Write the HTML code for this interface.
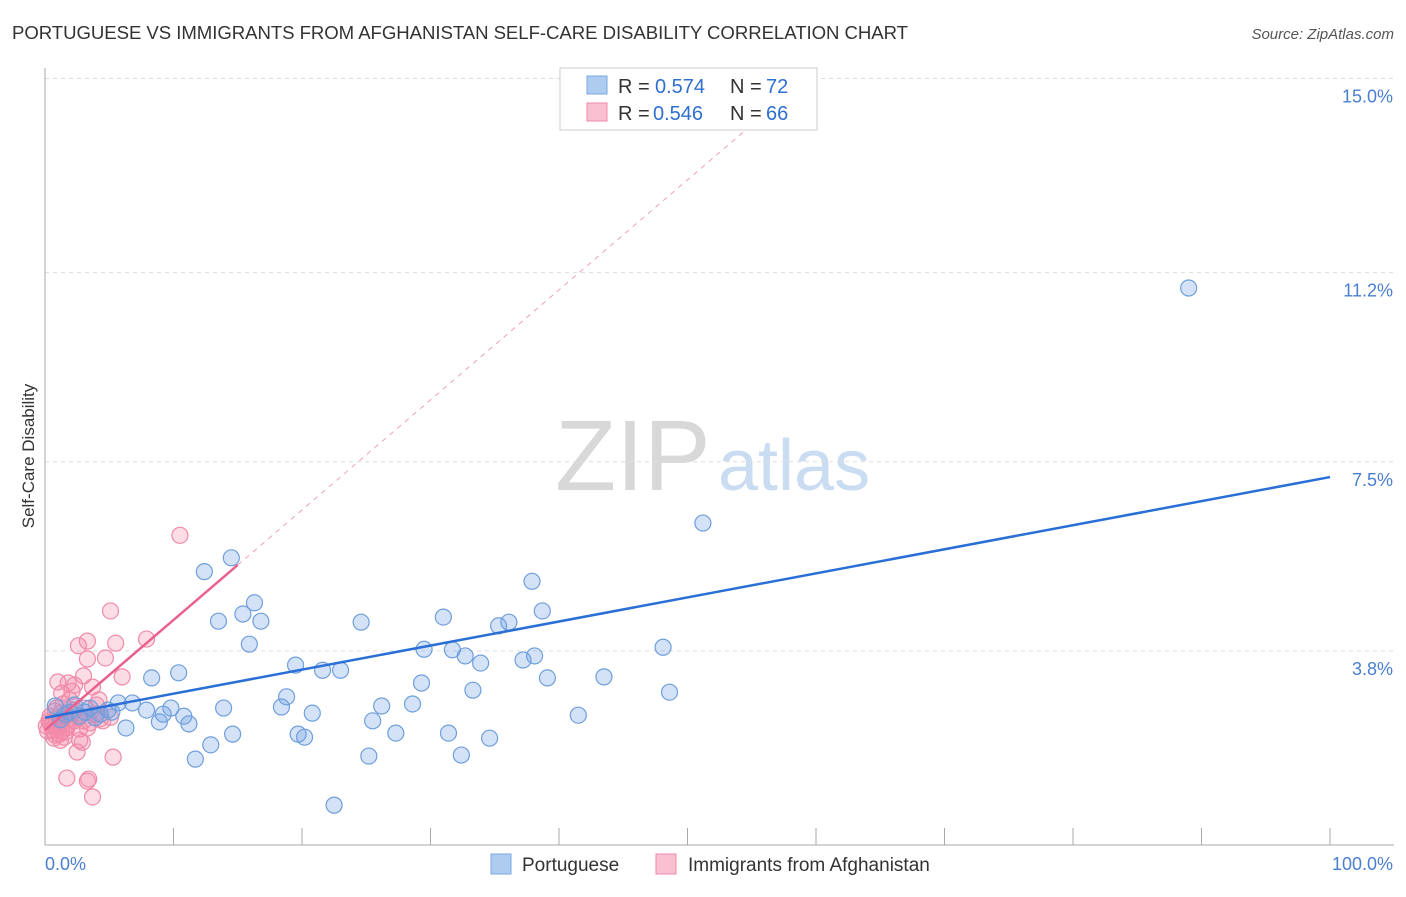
<!DOCTYPE html>
<html><head><meta charset="utf-8"><style>
body{margin:0;background:#fff;font-family:"Liberation Sans",sans-serif}
svg text{font-family:"Liberation Sans",sans-serif}
</style></head><body>
<svg width="1406" height="892" id="c">
<text x="12" y="39" font-size="18.6" fill="#333" textLength="896">PORTUGUESE VS IMMIGRANTS FROM AFGHANISTAN SELF-CARE DISABILITY CORRELATION CHART</text>
<text x="1394" y="39" font-size="15" fill="#555" font-style="italic" text-anchor="end">Source: ZipAtlas.com</text>
<text x="34" y="456" font-size="17" fill="#333" text-anchor="middle" transform="rotate(-90 34 456)">Self-Care Disability</text>
<text x="555" y="490" font-size="100" fill="#d8d8d8" font-family="Liberation Serif">ZIP</text>
<text x="718" y="490" font-size="72" fill="#c9dcf2">atlas</text>
<g id="grid"></g><g id="marks"></g>
<g>
<rect x="560" y="68" width="257" height="62" fill="#fff" stroke="#ccc"/>
<rect x="587" y="76" width="20" height="18" fill="#aecbf0" stroke="#7aa8e0"/>
<rect x="587" y="103" width="20" height="18" fill="#f8c0d0" stroke="#f08aa8"/>
<text x="618" y="93" font-size="20" fill="#333">R =</text>
<text x="655" y="93" font-size="20" fill="#2f6fd0">0.574</text>
<text x="730" y="93" font-size="20" fill="#333">N =</text>
<text x="766" y="93" font-size="20" fill="#2f6fd0">72</text>
<text x="618" y="120" font-size="20" fill="#333">R =</text>
<text x="653" y="120" font-size="20" fill="#2f6fd0">0.546</text>
<text x="730" y="120" font-size="20" fill="#333">N =</text>
<text x="766" y="120" font-size="20" fill="#2f6fd0">66</text>
</g>
<g>
<rect x="491" y="854" width="20" height="20" fill="#aecbf0" stroke="#7aa8e0"/>
<text x="522" y="871" font-size="19" fill="#333">Portuguese</text>
<rect x="656" y="854" width="20" height="20" fill="#f8c0d0" stroke="#f08aa8"/>
<text x="688" y="871" font-size="19" fill="#333">Immigrants from Afghanistan</text>
</g>
<text x="45" y="870" font-size="18" fill="#4a7fd0">0.0%</text>
<text x="1393" y="870" font-size="18" fill="#4a7fd0" text-anchor="end">100.0%</text>
</svg>
<script>
const yTicks=[15.0,11.2,7.5,3.8];
const yTickLabels=["15.0%","11.2%","7.5%","3.8%"];
const blueX=[89.0,51.2,14.5,12.4,37.9,16.3,15.4,38.7,13.5,16.8,24.6,31.0,35.3,36.1,15.9,48.1,29.5,31.7,32.7,33.9,37.2,38.1,19.5,21.6,23.0,10.4,8.3,39.1,43.5,29.3,33.3,48.6,18.8,26.2,28.6,18.4,13.9,20.8,9.8,5.7,6.8,7.9,9.2,10.8,41.5,25.5,8.9,11.2,6.3,14.6,19.7,20.2,27.3,31.4,34.6,12.9,11.7,25.2,32.4,22.5,0.8,1.9,2.7,3.5,4.3,4.9,1.2,2.3,3.9,3.1,1.6,5.2];
const blueY=[10.9,6.3,5.62,5.35,5.16,4.74,4.52,4.58,4.38,4.38,4.36,4.46,4.29,4.36,3.93,3.87,3.83,3.82,3.70,3.56,3.62,3.70,3.52,3.42,3.42,3.37,3.27,3.27,3.29,3.17,3.03,2.99,2.90,2.72,2.76,2.70,2.68,2.58,2.68,2.78,2.78,2.64,2.56,2.52,2.54,2.43,2.41,2.37,2.29,2.17,2.17,2.11,2.19,2.19,2.09,1.96,1.68,1.74,1.76,0.78,2.72,2.60,2.52,2.68,2.56,2.64,2.45,2.74,2.49,2.60,2.56,2.60];
const pinkX=[10.5,5.1,3.3,2.6,5.5,7.9,3.3,4.7,6.0,3.0,1.0,1.8,2.3,3.7,1.3,2.1,4.2,4.0,3.1,0.8,1.2,1.6,1.9,2.3,0.4,0.5,1.0,1.3,1.8,2.7,3.5,4.3,0.8,1.6,0.2,0.4,0.9,1.3,1.7,2.1,2.6,3.0,3.3,3.9,4.5,5.1,2.7,2.9,2.5,5.3,1.7,3.4,3.3,3.7,1.2,0.7,1.9,0.1,0.3,0.6,1.1,1.5,0.9,1.4,1.9,2.3];
const pinkY=[6.06,4.58,3.99,3.90,3.95,4.03,3.64,3.66,3.29,3.31,3.19,3.17,3.13,3.09,2.97,3.01,2.84,2.74,2.68,2.62,2.58,2.52,2.47,2.43,2.39,2.33,2.29,2.23,2.35,2.27,2.39,2.47,2.15,2.21,2.23,2.52,2.47,2.39,2.29,2.58,2.50,2.43,2.29,2.56,2.43,2.50,2.05,2.01,1.82,1.72,1.31,1.29,1.25,0.94,2.05,2.09,2.66,2.33,2.43,2.25,2.17,2.11,2.68,2.76,2.84,2.64];
const blueLine=[2.49,7.2];
const pinkLine=[2.25,5.48,14.0];
const NS="http://www.w3.org/2000/svg";
const X=v=>45+v*12.85, Y=v=>845-v*51.1;
function mk(t,a,p){const e=document.createElementNS(NS,t);for(const k in a)e.setAttribute(k,a[k]);p.appendChild(e);return e;}
const g=document.getElementById('grid'), m=document.getElementById('marks');
yTicks.forEach((t,i)=>{
 const l=mk('line',{x1:45,x2:1394,y1:Y(t),y2:Y(t),stroke:'#ddd','stroke-dasharray':'4,4'},g);
 
 
 const tx=mk('text',{x:1393,y:Y(t)+24,'font-size':18,fill:'#4a7fd0','text-anchor':'end'},g);
 tx.textContent=yTickLabels[i];
 
 
});
const ax=mk('line',{x1:45,x2:1394,y1:845,y2:845,stroke:'#aaa'},g);


const ay=mk('line',{x1:45,x2:45,y1:68,y2:845,stroke:'#aaa'},g);


for(let k=0;k<=10;k++){const t=mk('line',{x1:X(k*10),x2:X(k*10),y1:828,y2:845,stroke:'#aaa'},g);
 
 }
pinkX.forEach((x,i)=>{const c=mk('circle',{cx:X(x),cy:Y(pinkY[i]),r:8,fill:'rgba(245,140,170,0.3)',stroke:'#f08aa8','stroke-width':1.2},m);
 
 });
blueX.forEach((x,i)=>{const c=mk('circle',{cx:X(x),cy:Y(blueY[i]),r:8,fill:'rgba(110,160,230,0.3)',stroke:'#6f9fdc','stroke-width':1.2},m);
 
 });
const pslope=(pinkLine[1]-pinkLine[0])/15, xEnd=(pinkLine[2]-pinkLine[0])/pslope;
const pd=mk('line',{x1:X(15),y1:Y(pinkLine[1]),x2:X(xEnd),y2:Y(pinkLine[2]),stroke:'#f0a0b8','stroke-dasharray':'5,5'},m);


const pl=mk('line',{x1:X(0),y1:Y(pinkLine[0]),x2:X(15),y2:Y(pinkLine[1]),stroke:'#e8628f','stroke-width':2.5},m);


const bl=mk('line',{x1:X(0),y1:Y(blueLine[0]),x2:X(100),y2:Y(blueLine[1]),stroke:'#2a6fd6','stroke-width':2.5},m);


</script>
</body></html>
